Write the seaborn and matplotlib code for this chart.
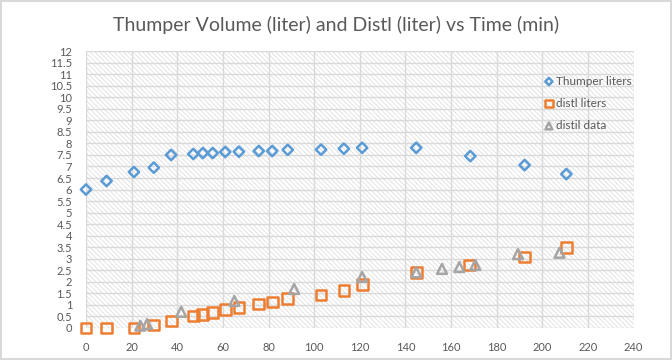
import numpy as np
import pandas as pd
import matplotlib
matplotlib.use('Agg')
import matplotlib.pyplot as plt
import seaborn as sns
from matplotlib.patches import Rectangle

# Thumper volume readings
thumper_t = [0, 9, 21, 29.7, 37.3, 47, 51.2, 55.5, 61, 67, 75.7, 81.6, 88.4,
             103, 113, 121, 144.7, 168.4, 192.2, 210.5]
thumper_l = [6.0, 6.37, 6.76, 6.95, 7.5, 7.54, 7.58, 7.58, 7.63, 7.64, 7.67,
             7.67, 7.72, 7.73, 7.77, 7.81, 7.81, 7.45, 7.06, 6.67]

# distillate liters (calculated)
distl_t = [0, 9, 21, 29.7, 37.3, 47, 51.2, 55.5, 61, 67, 75.7, 81.6, 88.4,
           103, 113, 121, 144.7, 168, 192.2, 210.5]
distl_l = [0, 0, 0, 0.13, 0.3, 0.52, 0.58, 0.66, 0.79, 0.88, 1.04, 1.13, 1.27,
           1.43, 1.62, 1.89, 2.41, 2.73, 3.08, 3.48]

# distil measured data
data_t = [23.8, 26.8, 41.7, 65, 91.2, 121, 144.7, 156, 163.6, 170.6, 189.3, 207.5]
data_l = [0.1, 0.17, 0.7, 1.17, 1.69, 2.21, 2.41, 2.56, 2.64, 2.73, 3.2, 3.26]

sns.set_style("white")
plt.rcParams['font.family'] = ['Lato', 'DejaVu Sans']
plt.rcParams['hatch.linewidth'] = 0.45
plt.rcParams['hatch.color'] = '#d6d6d6'

fig = plt.figure(figsize=(6.72, 3.6), dpi=100)
fig.patch.set_edgecolor('#d9d9d9')
fig.patch.set_linewidth(1.5)
ax = fig.add_axes([0.128, 0.089, 0.815, 0.769])

# hatched plot area like the Excel pattern fill
ax.add_patch(Rectangle((0, 0), 1, 1, transform=ax.transAxes, fill=False,
                       hatch='\\' * 7, edgecolor='#d6d6d6', lw=0, zorder=0))

gray_txt = '#595959'
sns.scatterplot(x=thumper_t, y=thumper_l, marker='D', s=28, facecolor='none',
                edgecolor='#5B9BD5', linewidth=1.8, label='Thumper liters', ax=ax,
                zorder=3, clip_on=False)
sns.scatterplot(x=distl_t, y=distl_l, marker='s', s=60, facecolor='none',
                edgecolor='#ED7D31', linewidth=1.8, label='distl liters', ax=ax,
                zorder=3, clip_on=False)
sns.scatterplot(x=data_t, y=data_l, marker='^', s=50, facecolor='none',
                edgecolor='#A5A5A5', linewidth=1.8, label='distil data', ax=ax,
                zorder=3, clip_on=False)

ax.set_xlim(0, 240)
ax.set_ylim(0, 12)
ax.set_xticks(np.arange(0, 241, 20))
ax.set_yticks(np.arange(0, 12.01, 0.5))
ax.set_yticklabels([f'{v:g}' for v in np.arange(0, 12.01, 0.5)])
ax.grid(True, color='#d9d9d9', lw=1)
ax.set_axisbelow(True)
for s in ax.spines.values():
    s.set_visible(False)
ax.tick_params(length=0, labelsize=8, labelcolor=gray_txt, pad=10)

fig.text(0.5, 0.93, 'Thumper Volume (liter) and Distl (liter) vs Time (min)',
         ha='center', va='center', fontsize=14, color=gray_txt)

leg = ax.legend(loc='upper left', bbox_to_anchor=(0.815, 0.95), frameon=False,
                fontsize=8.5, labelspacing=0.95, handletextpad=0.1, handlelength=1.0,
                markerscale=0.7)
for t in leg.get_texts():
    t.set_color(gray_txt)

fig.savefig('out.png', dpi=100)
